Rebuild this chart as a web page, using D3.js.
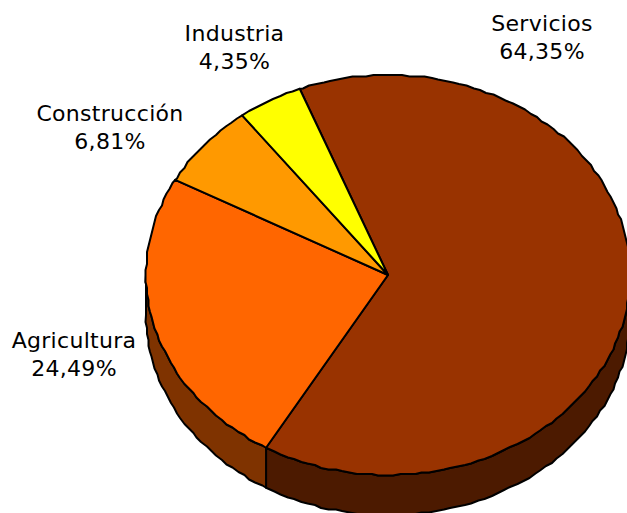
<!DOCTYPE html>
<html><head><meta charset="utf-8">
<script src="https://cdnjs.cloudflare.com/ajax/libs/d3/7.8.5/d3.min.js"></script>
<style>html,body{margin:0;padding:0;background:#fff;overflow:hidden}svg{display:block}</style>
</head><body><svg id="c" width="627" height="513"></svg>
<script>
const categories = ["Servicios","Agricultura","Construcción","Industria"];
const values = [64.35,24.49,6.81,4.35];
const valueLabels = ["64,35%","24,49%","6,81%","4,35%"];
const topColors = ["#993300","#FF6600","#FF9900","#FFFF00"];
const sideColors = ["#4C1A00","#7F3300","#7F4C00","#7F7F00"];
const labelPos = [[542,31],[74,348],[110,121],[234.5,41]];

const cx=388,cy=275,rx=242,ry=200,depth=40,grid=1.5,step=0.03;
const svg=d3.select("#c");
const start=-21.4*Math.PI/180;
const arcs=d3.pie().sort(null).value(d=>d).startAngle(start).endAngle(start+2*Math.PI)(values);
const snap=v=>Math.round(v/grid)*grid;
const px=a=>cx+rx*Math.sin(a), py=a=>cy-ry*Math.cos(a);
// slightly stair-stepped rim, as in the low-resolution source drawing
const rim=(a0,a1)=>{
  const inner=d3.range(Math.ceil(a0/step),Math.floor(a1/step)+1).map(k=>k*step).filter(a=>a>a0+0.01&&a<a1-0.01);
  return [[px(a0),py(a0)],...inner.map(a=>[snap(px(a)),snap(py(a))]),[px(a1),py(a1)]];
};
const line=d3.line();
// front wall
arcs.forEach((d,i)=>{
  const a0=Math.max(d.startAngle,Math.PI/2), a1=Math.min(d.endAngle,3*Math.PI/2);
  if(a1<=a0) return;
  const upper=rim(a0,a1);
  const lower=upper.slice().reverse().map(p=>[p[0],p[1]+depth]);
  svg.append("path").attr("d",line(upper.concat(lower))+"Z")
    .attr("fill",sideColors[i]).attr("stroke","#000").attr("stroke-width",2).attr("stroke-linejoin","round");
});
// top face
svg.append("g").selectAll("path").data(arcs).join("path")
 .attr("d",d=>line([[cx,cy],...rim(d.startAngle,d.endAngle)])+"Z")
 .attr("fill",(d,i)=>topColors[i])
 .attr("stroke","#000").attr("stroke-width",2).attr("stroke-linejoin","round");
// labels
const t=svg.append("g").attr("font-family","'DejaVu Sans',Verdana,sans-serif").attr("font-size",22).attr("letter-spacing",0.3).attr("fill","#000").attr("text-anchor","middle");
categories.forEach((c,i)=>{
  t.append("text").attr("x",labelPos[i][0]).attr("y",labelPos[i][1]).text(c);
  t.append("text").attr("x",labelPos[i][0]).attr("y",labelPos[i][1]+28).text(valueLabels[i]);
});
</script></body></html>
